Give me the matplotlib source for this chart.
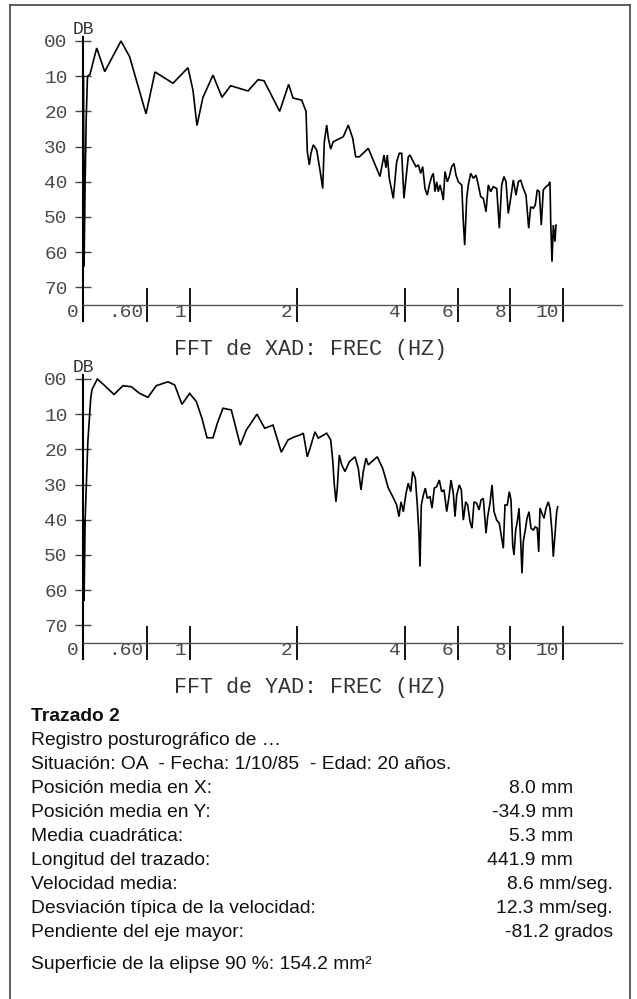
import numpy as np
import matplotlib
matplotlib.use('Agg')
import matplotlib.pyplot as plt
from matplotlib.lines import Line2D

# ---------------- data ----------------
TICK_HZ = [0, 0.6, 1, 2, 4, 6, 8, 10]
TICK_LABELS = ['0', '.60', '1', '2', '4', '6', '8', '10']
DB_TICKS = [0, 10, 20, 30, 40, 50, 60, 70]
DB_LABELS = ['00', '10', '20', '30', '40', '50', '60', '70']

XAD_HZ = [0.005, 0.01, 0.02, 0.03, 0.042, 0.065, 0.128, 0.203, 0.355, 0.436, 0.589, 0.673, 0.841, 0.981,
          1.028, 1.065, 1.121, 1.215, 1.299, 1.380, 1.542, 1.636, 1.692, 1.838, 1.922, 1.963,
          2.087, 2.167, 2.191, 2.228, 2.259, 2.302, 2.365, 2.439, 2.476, 2.506, 2.550, 2.580, 2.624, 2.672,
          2.857, 2.950, 3.031, 3.087, 3.154, 3.320, 3.537, 3.611, 3.648, 3.672, 3.709, 3.783, 3.846, 3.894, 3.939, 3.981,
          4.038, 4.125, 4.190, 4.316, 4.418, 4.506, 4.597, 4.673, 4.760, 4.848, 4.924,
          5.015, 5.076, 5.141, 5.205, 5.266, 5.331, 5.395, 5.456, 5.521, 5.608, 5.684, 5.776, 5.863, 5.939,
          6.027, 6.156, 6.217, 6.270, 6.346, 6.407, 6.498, 6.597, 6.700, 6.787, 6.878, 6.977,
          7.080, 7.167, 7.259, 7.357, 7.487, 7.586, 7.677, 7.764, 7.840, 7.928,
          8.019, 8.118, 8.221, 8.308, 8.399, 8.498, 8.601, 8.703, 8.779, 8.878, 8.954,
          9.030, 9.106, 9.182, 9.259, 9.361, 9.449, 9.513, 9.540, 9.589, 9.639, 9.703, 9.741]
XAD_DB = [10, 64, 40, 22, 10, 9.5, 2, 8.7, 0, 4.5, 20.7, 8.8, 12, 7.6,
          14, 24, 16, 9.7, 16, 12.7, 14.2, 11, 11.3, 20, 12.3, 16.2,
          16.8, 20, 31.4, 35.2, 31.8, 29.5, 31, 38, 41.9, 28.6, 23.9, 27.6, 30.7, 28.6,
          27.2, 23.9, 27.6, 32.9, 32.9, 30.5, 38.5, 32.4, 36, 32.4, 39, 44.7, 34.3, 31.9, 31.9, 44.7,
          39, 32.9, 32.4, 34.3, 35.7, 35.2, 37.6, 35.7, 41.9, 43.8, 40.9,
          38.5, 37.6, 42.8, 40, 42.8, 40.9, 42.8, 45.2, 37.1, 40, 38.5, 35.7, 34.8, 38.1,
          40, 40.9, 51.3, 58, 44.7, 40.9, 37.6, 39, 38.1, 40.9, 44.2, 44.7,
          48.5, 40.9, 42.8, 41.4, 41.9, 53.2, 40.9, 38.5, 40, 49,
          44.7, 39.5, 43.8, 40, 39.5, 41.9, 43.8, 53.2, 47.1, 47.5, 46.6,
          42.3, 42.8, 52.3, 42.3, 41.4, 40.9, 40, 51.3, 62.7, 52.3, 57, 52.3]

YAD_HZ = [0.005, 0.01, 0.02, 0.045, 0.072, 0.084, 0.134, 0.203, 0.290, 0.374, 0.451, 0.530, 0.607, 0.685,
          0.794, 0.857, 0.925, 0.997, 1.059, 1.112, 1.159, 1.215, 1.255, 1.308, 1.386, 1.470, 1.526,
          1.626, 1.698, 1.776, 1.853, 1.916, 1.979, 2.056, 2.117, 2.191, 2.241, 2.333, 2.394, 2.550,
          2.624, 2.661, 2.691, 2.722, 2.746, 2.783, 2.828, 2.889, 2.969, 3.074, 3.135, 3.185, 3.228,
          3.278, 3.320, 3.383, 3.487, 3.587, 3.691, 3.772, 3.846, 3.889, 3.926, 3.969, 4.038, 4.125,
          4.217, 4.293, 4.392, 4.468, 4.532, 4.570, 4.620, 4.696, 4.772, 4.848, 4.951, 5.027, 5.114,
          5.205, 5.304, 5.395, 5.483, 5.586, 5.673, 5.749, 5.837, 5.901, 5.966, 6.065, 6.141, 6.217,
          6.308, 6.384, 6.471, 6.548, 6.624, 6.726, 6.814, 6.890, 6.977, 7.080, 7.144, 7.232, 7.308,
          7.384, 7.487, 7.586, 7.677, 7.738, 7.802, 7.890, 7.966, 8.030, 8.095, 8.144, 8.209, 8.270,
          8.335, 8.399, 8.449, 8.498, 8.574, 8.639, 8.715, 8.791, 8.878, 8.954, 9.030, 9.084, 9.133,
          9.209, 9.285, 9.361, 9.449, 9.513, 9.589, 9.639, 9.703, 9.768, 9.806]
YAD_DB = [40, 63, 40, 18, 5.5, 3, 0, 1.9, 4.4, 1.9, 2.2, 4.1, 5.2, 1.9,
          0.8, 1.7, 7.2, 4.1, 6.4, 11.2, 16.7, 16.7, 12.6, 8.3, 8.8, 18.8, 14.5,
          10, 14, 13.1, 20.8, 17.3, 16.4, 15.9, 15.4, 22.1, 19.7, 15, 16.8, 15.4,
          17.3, 23, 30.1, 34.9, 31, 21.6, 24.4, 26.3, 23.5, 22.1, 25.4, 31.5, 26.3,
          22.5, 24.4, 23.5, 22.1, 25.4, 31, 33.4, 35.8, 39.1, 34.9, 37.7, 32.5, 29.6,
          32, 26.3, 28.2, 35.8, 44.3, 53.3, 35.8, 33, 31, 33.9, 33.4, 36.7, 31,
          30.6, 28.7, 32, 31.5, 37.7, 33.4, 28.7, 32.5, 39.1, 33, 30.1, 31.5, 40.1,
          34.9, 35.8, 40.5, 42.4, 34.9, 35.3, 37.2, 34.4, 33.9, 43.8, 39.1, 35.3, 30.1,
          37.7, 40.1, 41, 45.3, 48.1, 35.8, 35.8, 32, 34.4, 47.2, 50, 42.9, 40.5,
          36.7, 46.2, 55.2, 46.2, 42.9, 39.6, 37.7, 42.4, 42.9, 42, 42.4, 49.1, 36.7,
          38.2, 39.6, 36.7, 34.9, 36.7, 43.4, 50.5, 44.3, 37.7, 36.3]

TITLE_X = 'FFT de XAD: FREC (HZ)'
TITLE_Y = 'FFT de YAD: FREC (HZ)'

HEADER = 'Trazado 2'
INFO_LINES = ['Registro posturográfico de …',
              'Situación: OA  - Fecha: 1/10/85  - Edad: 20 años.']
STAT_LABELS = ['Posición media en X:', 'Posición media en Y:', 'Media cuadrática:',
               'Longitud del trazado:', 'Velocidad media:',
               'Desviación típica de la velocidad:', 'Pendiente del eje mayor:']
STAT_VALUES = ['8.0 mm', '-34.9 mm', '5.3 mm', '441.9 mm', '8.6 mm/seg.',
               '12.3 mm/seg.', '-81.2 grados']
FOOTER = 'Superficie de la elipse 90 %: 154.2 mm²'

# ---------------- figure ----------------
W, H, DPI = 637, 999, 100
plt.rcParams['font.family'] = ['Liberation Sans', 'DejaVu Sans']
fig = plt.figure(figsize=(W / DPI, H / DPI), dpi=DPI)
fig.patch.set_facecolor('white')


def fx(px):
    return px / W


def fy(py):
    return 1 - py / H


# piecewise-linear frequency axis as on the original printout
HZ_BREAKS = [0, 2, 4, 12.5]
POS_BREAKS = [0, 214, 322, 545.55]


def fwd(f):
    return np.interp(f, HZ_BREAKS, POS_BREAKS)


def inv(p):
    return np.interp(p, POS_BREAKS, HZ_BREAKS)


MONO = ['Liberation Mono', 'DejaVu Sans Mono']
LBL_COLOR = '#4a4a4a'
LBL_FS = 14


def panel(top_px, hz, db, title, title_py):
    ax = fig.add_axes([fx(83), fy(top_px + 284), fx(539), 284 / H])
    ax.set_facecolor('none')
    ax.set_xscale('function', functions=(fwd, inv))
    ax.plot(hz, db, color='black', lw=1.2, solid_joinstyle='miter')
    ax.set_xlim(0, inv(539))
    ax.set_ylim(79.55, -1.136)
    for s in ('top', 'right'):
        ax.spines[s].set_visible(False)
    ax.spines['bottom'].set_position(('data', 75))
    ax.spines['bottom'].set_linestyle((0, (1, 1)))
    ax.spines['bottom'].set_color('#555555')
    ax.spines['bottom'].set_linewidth(1.0)
    ax.spines['left'].set_color('black')
    ax.spines['left'].set_linewidth(1.5)

    ax.set_xticks(TICK_HZ[1:])
    ax.tick_params(axis='x', direction='inout', length=24.5, width=1.3,
                   color='black', labelbottom=False)
    ax.set_yticks(DB_TICKS)
    ax.set_yticklabels(DB_LABELS, family=MONO, fontsize=LBL_FS, color=LBL_COLOR)
    ax.tick_params(axis='y', direction='inout', length=11, width=1.0,
                   color='#444444', pad=5.5)
    for f, lbl in zip(TICK_HZ, TICK_LABELS):
        ax.annotate(lbl, xy=(f, 75), xycoords='data', xytext=(-3, -5.5),
                    textcoords='offset points', ha='right', va='center',
                    family=MONO, fontsize=LBL_FS, color=LBL_COLOR,
                    annotation_clip=False)
    fig.text(fx(83), fy(top_px - 7), 'DB', ha='center', va='center',
             family=MONO, fontsize=13, color='#333333')
    fig.text(fx(311), fy(title_py), title, ha='center', va='center',
             family=MONO, fontsize=15.7, color='#333333')
    return ax


panel(37, XAD_HZ, XAD_DB, TITLE_X, 350)
panel(375, YAD_HZ, YAD_DB, TITLE_Y, 687)

# ---------------- text block ----------------
TX = 31
FS = 13.9
TXT_COLOR = '#111111'
fig.text(fx(TX), fy(721), HEADER, ha='left', va='baseline', fontsize=FS,
         fontweight='bold', color=TXT_COLOR)
base = 745
for i, line in enumerate(INFO_LINES):
    fig.text(fx(TX), fy(base + 24 * i), line, ha='left', va='baseline',
             fontsize=FS, color=TXT_COLOR)
base = 745 + 24 * len(INFO_LINES)
for i, (lab, val) in enumerate(zip(STAT_LABELS, STAT_VALUES)):
    yb = fy(base + 24 * i)
    fig.text(fx(TX), yb, lab, ha='left', va='baseline', fontsize=FS, color=TXT_COLOR)
    xr = 573 if val.endswith('mm') else 613
    fig.text(fx(xr), yb, val, ha='right', va='baseline', fontsize=FS, color=TXT_COLOR)
fig.text(fx(TX), fy(969), FOOTER, ha='left', va='baseline', fontsize=FS, color=TXT_COLOR)

# ---------------- outer frame ----------------
for xs, ys in (([10, 10], [5, 1005]), ([10, 630], [5, 5]), ([630, 630], [5, 1005])):
    fig.add_artist(Line2D([fx(x) for x in xs], [fy(y) for y in ys],
                          color='#444444', lw=1.2))

fig.savefig('out.png', dpi=DPI)
